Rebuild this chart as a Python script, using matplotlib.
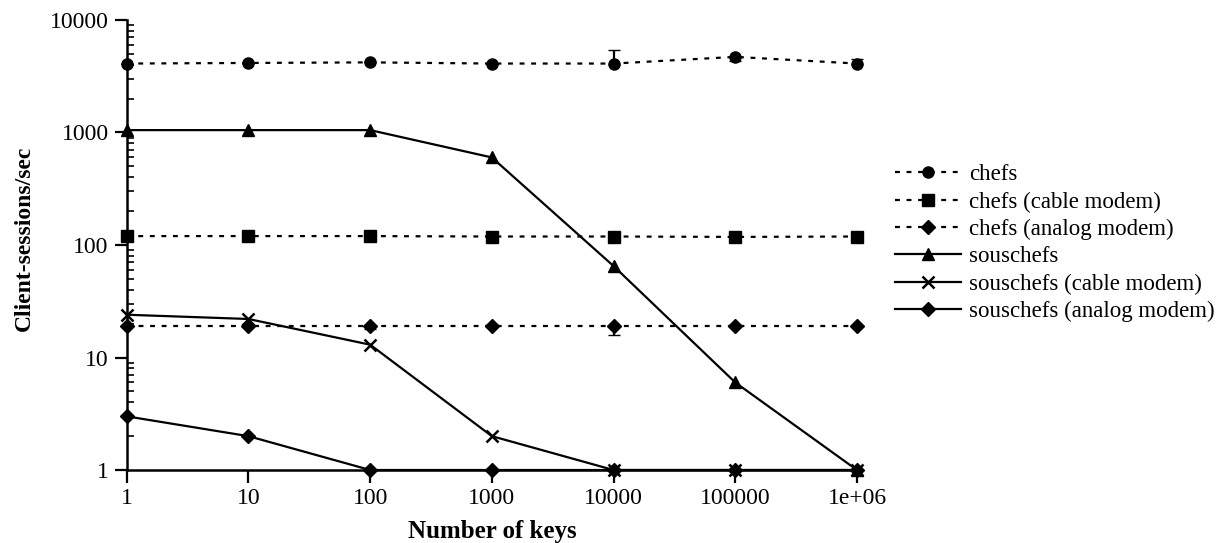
"""Client-sessions/sec vs number of keys (chefs / souschefs), log-log."""
import numpy as np
import matplotlib
matplotlib.use("Agg")
import matplotlib.pyplot as plt
from matplotlib.ticker import LogLocator, NullFormatter, FixedLocator

plt.rcParams["font.family"] = ["Liberation Serif", "DejaVu Serif"]

keys = [1, 10, 100, 1000, 10000, 100000, 1000000]
key_labels = ["1", "10", "100", "1000", "10000", "100000", "1e+06"]

chefs = [4100, 4150, 4200, 4100, 4100, 4700, 4100]
chefs_err_lo = [0, 0, 0, 0, 0, 400, 0]
chefs_err_hi = [0, 0, 0, 0, 1300, 0, 400]
chefs_cable = [120, 120, 120, 119, 119, 118, 119]
chefs_analog = [19, 19, 19, 19, 19, 19, 19]
chefs_analog_err_lo = [0, 0, 1.2, 0, 3, 0, 0]
chefs_analog_err_hi = [0, 0, 0, 0, 0, 0, 0]
souschefs = [1050, 1050, 1050, 600, 65, 6, 1]
souschefs_cable = [24, 22, 13, 2, 1, 1, 1]
souschefs_analog = [3, 2, 1, 1, 1, 1, 1]

labels = ["chefs", "chefs (cable modem)", "chefs (analog modem)", "souschefs",
          "souschefs (cable modem)", "souschefs (analog modem)"]

fig = plt.figure(figsize=(12.22, 5.43), dpi=100)
ax = fig.add_axes([0.1037, 0.1344, 0.5976, 0.8288])

dash = dict(ls=(0, (2.2, 3.0)), lw=1.6, color="black")
solid = dict(ls="-", lw=1.6, color="black")
h = []
h.append(ax.errorbar(keys, chefs, yerr=[chefs_err_lo, chefs_err_hi], marker="o", ms=8,
                     capsize=4, elinewidth=1.6, clip_on=False, **dash)[0])
h += ax.plot(keys, chefs_cable, marker="s", ms=8, clip_on=False, **dash)
h.append(ax.errorbar(keys, chefs_analog, yerr=[chefs_analog_err_lo, chefs_analog_err_hi],
                     marker="D", ms=7, capsize=4, elinewidth=1.6,
                     clip_on=False, **dash)[0])
h += ax.plot(keys, souschefs, marker="^", ms=8, clip_on=False, **solid)
h += ax.plot(keys, souschefs_cable, marker="x", ms=9, mew=1.8, clip_on=False, **solid)
h += ax.plot(keys, souschefs_analog, marker="D", ms=7, clip_on=False, **solid)

ax.set_xscale("log")
ax.set_yscale("log")
ax.set_xlim(1, 1e6)
ax.set_ylim(1, 10000)
ax.set_xticks(keys, key_labels)
ax.xaxis.set_minor_locator(FixedLocator([]))
ax.set_yticks([1, 10, 100, 1000, 10000], ["1", "10", "100", "1000", "10000"])
ax.yaxis.set_minor_locator(LogLocator(base=10, subs=np.arange(2, 10)))
ax.yaxis.set_minor_formatter(NullFormatter())
ax.tick_params(axis="both", which="major", direction="out", length=9, width=1.6,
               labelsize=17, pad=4)
ax.tick_params(axis="y", which="minor", direction="in", length=5, width=1.2)

for s in ("top", "right"):
    ax.spines[s].set_visible(False)
for s in ("left", "bottom"):
    ax.spines[s].set_linewidth(1.8)

ax.set_xlabel("Number of keys", fontsize=18, fontweight="bold", labelpad=8)
ax.set_ylabel("Client-sessions/sec", fontsize=17, fontweight="bold")
ax.yaxis.set_label_coords(-0.126, 0.515)

ax.legend(h, labels, loc="center left", bbox_to_anchor=(1.052, 0.504), frameon=False,
          fontsize=16.5, handlelength=2.9, handletextpad=0.35, labelspacing=0.27,
          borderpad=0, borderaxespad=0)

fig.savefig("out.png", dpi=100)
